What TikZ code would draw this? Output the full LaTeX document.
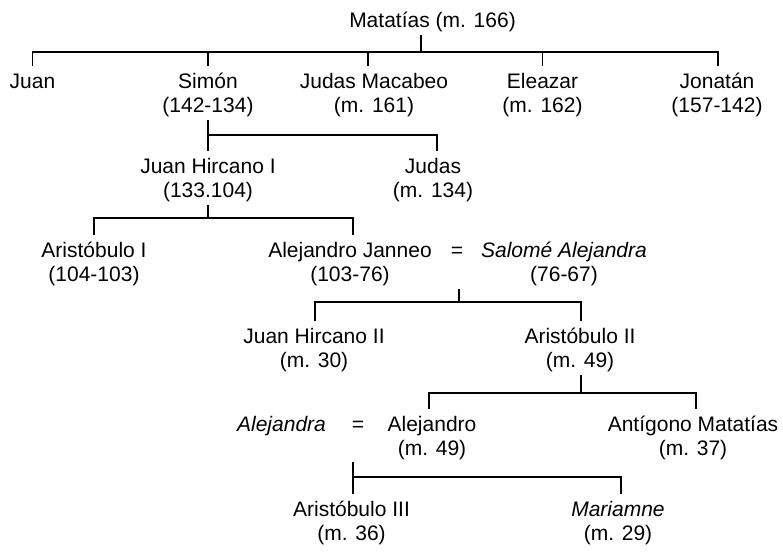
\documentclass[tikz,border=0pt]{standalone}
\usepackage{fontspec}
\setmainfont{Liberation Sans}
\usetikzlibrary{calc}
\newcommand\tstr{\rule{0pt}{22pt}}
\newcommand\bstr{\rule[-8pt]{0pt}{8pt}}
\begin{document}
\begin{tikzpicture}[x=1pt,y=-1pt,
  person/.style={align=center,inner sep=0pt,anchor=north,font=\fontsize{21}{24}\selectfont},
  link/.style={line width=1.8pt}]
\useasboundingbox (0,0) rectangle (783,552);
% row 0
\node[person] (mat) at (432.5,5) {\tstr Matatías (m. 166)\bstr};
% row 1
\node[person] (juan) at (32.5,66) {\tstr Juan};
\node[person] (simon) at (208,66) {\tstr Simón\\(142-134)\bstr};
\node[person] (judasm) at (374,66) {\tstr Judas Macabeo\\(m. 161)\bstr};
\node[person] (eleazar) at (542.5,66) {\tstr Eleazar\\(m. 162)\bstr};
\node[person] (jonatan) at (717,66) {\tstr Jonatán\\(157-142)\bstr};
% row 2
\node[person] (jh1) at (208,151) {\tstr Juan Hircano I\\(133.104)\bstr};
\node[person] (judas) at (433,151) {\tstr Judas\\(m. 134)\bstr};
% row 3
\node[person] (ar1) at (94,235) {\tstr Aristóbulo I\\(104-103)\bstr};
\node[person] (aljan) at (350,235) {\tstr Alejandro Janneo\\(103-76)\bstr};
\node[person] (eq1) at (457,235) {\tstr =};
\node[person] (salome) at (564,235) {\tstr{\itshape Salomé Alejandra}\\(76-67)\bstr};
% row 4
\node[person] (jh2) at (314,321) {\tstr Juan Hircano II\\(m. 30)\bstr};
\node[person] (ar2) at (580,321) {\tstr Aristóbulo II\\(m. 49)\bstr};
% row 5
\node[person] (alejandra) at (281.5,409) {\tstr{\itshape Alejandra}};
\node[person] (eq2) at (358,409) {\tstr =};
\node[person] (alej) at (432,409) {\tstr Alejandro\\(m. 49)\bstr};
\node[person] (antigono) at (693,409) {\tstr Antígono Matatías\\(m. 37)\bstr};
% row 6
\node[person] (ar3) at (351.5,494) {\tstr Aristóbulo III\\(m. 36)\bstr};
\node[person] (mari) at (618,494) {\tstr{\itshape Mariamne}\\(m. 29)\bstr};

% level 0
\draw[link] ($(mat.south)+(-11.8,0)$) -- ++(0,17);
\draw[link] (juan.north) |- ($(jonatan.north)+(0.7,-14)$) -- ($(jonatan.north)+(0.7,0)$);
\draw[link] (simon.north) -- ++(0,-14);
\draw[link] ($(judasm.north)+(-6,0)$) -- ++(0,-14);
\draw[link] (eleazar.north) -- ++(0,-14);
% level 1
\draw[link] (simon.south) -- (jh1.north);
\draw[link] (simon.south |- 0,135) -| ($(judas.north)+(3.7,0)$);
% level 2
\draw[link] (jh1.south) -- ++(0,13);
\draw[link] (ar1.north) |- ($(aljan.north)+(2.7,-17)$) -- ($(aljan.north)+(2.7,0)$);
% level 3
\draw[link] ($(eq1.north |- aljan.south)+(2,0)$) -- ++(0,13);
\draw[link] ($(jh2.north)+(1,0)$) |- ($(ar2.north)+(0.7,-19)$) -- ($(ar2.north)+(0.7,0)$);
% level 4
\draw[link] ($(ar2.south)+(0.7,0)$) -- ++(0,18);
\draw[link] ($(alej.north)+(-2.7,0)$) |- ($(antigono.north)+(2.7,-16)$) -- ($(antigono.north)+(2.7,0)$);
% level 5
\draw[link] ($(ar3.north)+(1.2,0)$) -- ++(0,-32);
\draw[link] ($(ar3.north)+(1.2,-16.7)$) -| ($(mari.north)+(3,0)$);
\end{tikzpicture}
\end{document}
